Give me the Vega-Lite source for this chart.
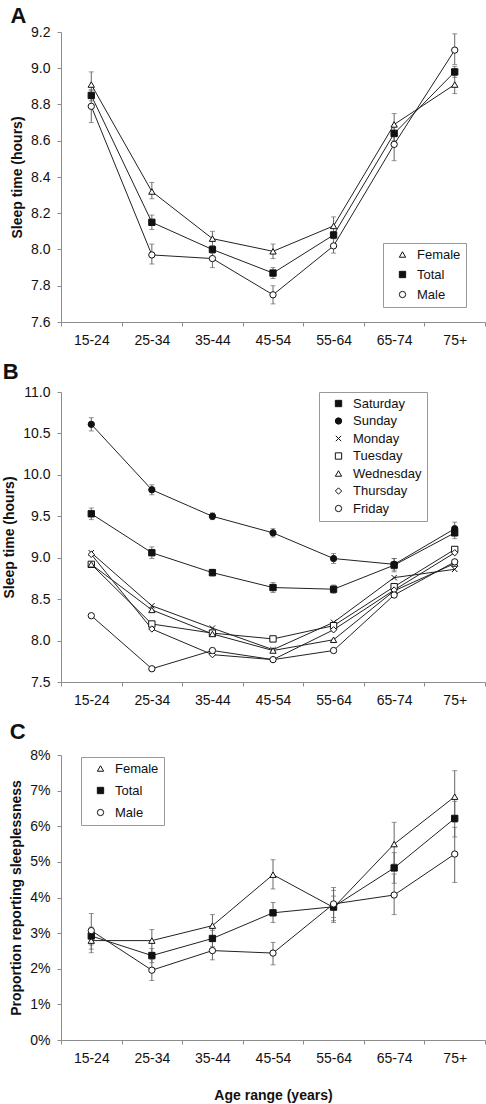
{
  "$schema": "https://vega.github.io/schema/vega-lite/v6.json",
  "padding": {"left": 2, "top": 5, "right": 0, "bottom": 2},
  "background": "white",
  "datasets": {
    "a": [
      {"age": "15-24", "sex": "Female", "v": 8.91, "lo": 8.84, "hi": 8.98},
      {"age": "25-34", "sex": "Female", "v": 8.32, "lo": 8.28, "hi": 8.37},
      {"age": "35-44", "sex": "Female", "v": 8.06, "lo": 8.02, "hi": 8.10},
      {"age": "45-54", "sex": "Female", "v": 7.99, "lo": 7.95, "hi": 8.03},
      {"age": "55-64", "sex": "Female", "v": 8.13, "lo": 8.09, "hi": 8.18},
      {"age": "65-74", "sex": "Female", "v": 8.69, "lo": 8.64, "hi": 8.75},
      {"age": "75+", "sex": "Female", "v": 8.91, "lo": 8.86, "hi": 8.96},
      {"age": "15-24", "sex": "Total", "v": 8.85, "lo": 8.82, "hi": 8.88},
      {"age": "25-34", "sex": "Total", "v": 8.15, "lo": 8.11, "hi": 8.19},
      {"age": "35-44", "sex": "Total", "v": 8.00, "lo": 7.98, "hi": 8.02},
      {"age": "45-54", "sex": "Total", "v": 7.87, "lo": 7.84, "hi": 7.90},
      {"age": "55-64", "sex": "Total", "v": 8.08, "lo": 8.06, "hi": 8.10},
      {"age": "65-74", "sex": "Total", "v": 8.64, "lo": 8.60, "hi": 8.68},
      {"age": "75+", "sex": "Total", "v": 8.98, "lo": 8.95, "hi": 9.01},
      {"age": "15-24", "sex": "Male", "v": 8.79, "lo": 8.70, "hi": 8.88},
      {"age": "25-34", "sex": "Male", "v": 7.97, "lo": 7.92, "hi": 8.03},
      {"age": "35-44", "sex": "Male", "v": 7.95, "lo": 7.90, "hi": 7.99},
      {"age": "45-54", "sex": "Male", "v": 7.75, "lo": 7.70, "hi": 7.80},
      {"age": "55-64", "sex": "Male", "v": 8.02, "lo": 7.98, "hi": 8.06},
      {"age": "65-74", "sex": "Male", "v": 8.58, "lo": 8.49, "hi": 8.66},
      {"age": "75+", "sex": "Male", "v": 9.10, "lo": 9.02, "hi": 9.19}
    ],
    "b": [
      {"age": "15-24", "day": "Saturday", "v": 9.53, "lo": 9.46, "hi": 9.60},
      {"age": "25-34", "day": "Saturday", "v": 9.06, "lo": 8.99, "hi": 9.13},
      {"age": "35-44", "day": "Saturday", "v": 8.82, "lo": 8.78, "hi": 8.86},
      {"age": "45-54", "day": "Saturday", "v": 8.64, "lo": 8.58, "hi": 8.70},
      {"age": "55-64", "day": "Saturday", "v": 8.62, "lo": 8.57, "hi": 8.67},
      {"age": "65-74", "day": "Saturday", "v": 8.91, "lo": 8.83, "hi": 8.99},
      {"age": "75+", "day": "Saturday", "v": 9.30, "lo": 9.23, "hi": 9.37},
      {"age": "15-24", "day": "Sunday", "v": 10.61, "lo": 10.53, "hi": 10.69},
      {"age": "25-34", "day": "Sunday", "v": 9.82, "lo": 9.76, "hi": 9.88},
      {"age": "35-44", "day": "Sunday", "v": 9.50, "lo": 9.46, "hi": 9.54},
      {"age": "45-54", "day": "Sunday", "v": 9.30, "lo": 9.25, "hi": 9.35},
      {"age": "55-64", "day": "Sunday", "v": 8.99, "lo": 8.93, "hi": 9.05},
      {"age": "65-74", "day": "Sunday", "v": 8.92, "lo": 8.85, "hi": 8.99},
      {"age": "75+", "day": "Sunday", "v": 9.35, "lo": 9.27, "hi": 9.43},
      {"age": "15-24", "day": "Monday", "v": 9.06},
      {"age": "25-34", "day": "Monday", "v": 8.42},
      {"age": "35-44", "day": "Monday", "v": 8.15},
      {"age": "45-54", "day": "Monday", "v": 7.89},
      {"age": "55-64", "day": "Monday", "v": 8.22},
      {"age": "65-74", "day": "Monday", "v": 8.76},
      {"age": "75+", "day": "Monday", "v": 8.86},
      {"age": "15-24", "day": "Tuesday", "v": 8.92},
      {"age": "25-34", "day": "Tuesday", "v": 8.20},
      {"age": "35-44", "day": "Tuesday", "v": 8.09},
      {"age": "45-54", "day": "Tuesday", "v": 8.02},
      {"age": "55-64", "day": "Tuesday", "v": 8.18},
      {"age": "65-74", "day": "Tuesday", "v": 8.65},
      {"age": "75+", "day": "Tuesday", "v": 9.10},
      {"age": "15-24", "day": "Wednesday", "v": 8.92},
      {"age": "25-34", "day": "Wednesday", "v": 8.37},
      {"age": "35-44", "day": "Wednesday", "v": 8.08},
      {"age": "45-54", "day": "Wednesday", "v": 7.88},
      {"age": "55-64", "day": "Wednesday", "v": 8.01},
      {"age": "65-74", "day": "Wednesday", "v": 8.60},
      {"age": "75+", "day": "Wednesday", "v": 8.93},
      {"age": "15-24", "day": "Thursday", "v": 9.04},
      {"age": "25-34", "day": "Thursday", "v": 8.14},
      {"age": "35-44", "day": "Thursday", "v": 7.83},
      {"age": "45-54", "day": "Thursday", "v": 7.77},
      {"age": "55-64", "day": "Thursday", "v": 8.13},
      {"age": "65-74", "day": "Thursday", "v": 8.61},
      {"age": "75+", "day": "Thursday", "v": 9.06},
      {"age": "15-24", "day": "Friday", "v": 8.30},
      {"age": "25-34", "day": "Friday", "v": 7.66},
      {"age": "35-44", "day": "Friday", "v": 7.88},
      {"age": "45-54", "day": "Friday", "v": 7.77},
      {"age": "55-64", "day": "Friday", "v": 7.88},
      {"age": "65-74", "day": "Friday", "v": 8.55},
      {"age": "75+", "day": "Friday", "v": 8.95}
    ],
    "c": [
      {"age": "15-24", "sex": "Female", "v": 0.0279, "lo": 0.0245, "hi": 0.0312},
      {"age": "25-34", "sex": "Female", "v": 0.0279, "lo": 0.0246, "hi": 0.0310},
      {"age": "35-44", "sex": "Female", "v": 0.0321, "lo": 0.0288, "hi": 0.0352},
      {"age": "45-54", "sex": "Female", "v": 0.0464, "lo": 0.0424, "hi": 0.0506},
      {"age": "55-64", "sex": "Female", "v": 0.0372, "lo": 0.0330, "hi": 0.0420},
      {"age": "65-74", "sex": "Female", "v": 0.0550, "lo": 0.0494, "hi": 0.0611},
      {"age": "75+", "sex": "Female", "v": 0.0683, "lo": 0.0611, "hi": 0.0756},
      {"age": "15-24", "sex": "Total", "v": 0.0292, "lo": 0.0267, "hi": 0.0317},
      {"age": "25-34", "sex": "Total", "v": 0.0237, "lo": 0.0217, "hi": 0.0257},
      {"age": "35-44", "sex": "Total", "v": 0.0285, "lo": 0.0262, "hi": 0.0308},
      {"age": "45-54", "sex": "Total", "v": 0.0357, "lo": 0.0330, "hi": 0.0386},
      {"age": "55-64", "sex": "Total", "v": 0.0374, "lo": 0.0344, "hi": 0.0404},
      {"age": "65-74", "sex": "Total", "v": 0.0483, "lo": 0.0440, "hi": 0.0526},
      {"age": "75+", "sex": "Total", "v": 0.0622, "lo": 0.0570, "hi": 0.0670},
      {"age": "15-24", "sex": "Male", "v": 0.0307, "lo": 0.0255, "hi": 0.0355},
      {"age": "25-34", "sex": "Male", "v": 0.0196, "lo": 0.0167, "hi": 0.0227},
      {"age": "35-44", "sex": "Male", "v": 0.0251, "lo": 0.0225, "hi": 0.0279},
      {"age": "45-54", "sex": "Male", "v": 0.0244, "lo": 0.0211, "hi": 0.0274},
      {"age": "55-64", "sex": "Male", "v": 0.0382, "lo": 0.0335, "hi": 0.0428},
      {"age": "65-74", "sex": "Male", "v": 0.0407, "lo": 0.0352, "hi": 0.0466},
      {"age": "75+", "sex": "Male", "v": 0.0522, "lo": 0.0442, "hi": 0.0597}
    ]
  },
  "spacing": 14,
  "resolve": {
    "scale": {"shape": "independent", "fill": "independent", "stroke": "independent", "y": "independent", "x": "independent"},
    "legend": {"shape": "independent", "fill": "independent", "stroke": "independent"}
  },
  "vconcat": [
    {
      "title": {"text": "A", "offset": -3},
      "width": 424,
      "height": 290,
      "data": {"name": "a"},
      "encoding": {
        "x": {"field": "age", "type": "nominal", "bandPosition": 0.5,
              "scale": {"type": "band", "paddingInner": 0, "paddingOuter": 0, "domain": ["15-24","25-34","35-44","45-54","55-64","65-74","75+"]},
              "axis": {"title": null, "labelAngle": 0, "tickBand": "extent", "labelPadding": 7}},
        "y": {"field": "v", "type": "quantitative",
              "scale": {"domain": [7.6, 9.2], "zero": false, "nice": false},
              "axis": {"title": "Sleep time (hours)", "values": [7.6,7.8,8.0,8.2,8.4,8.6,8.8,9.0,9.2], "format": ".1f"}}
      },
      "layer": [
        {"mark": {"type": "rule", "color": "#666", "strokeWidth": 1},
         "encoding": {"y": {"field": "lo", "type": "quantitative"}, "y2": {"field": "hi"}}},
        {"mark": {"type": "tick", "color": "#666", "thickness": 1, "size": 5, "orient": "horizontal"},
         "encoding": {"y": {"field": "lo", "type": "quantitative"}}},
        {"mark": {"type": "tick", "color": "#666", "thickness": 1, "size": 5, "orient": "horizontal"},
         "encoding": {"y": {"field": "hi", "type": "quantitative"}}},
        {"mark": {"type": "line", "color": "#222", "strokeWidth": 1},
         "encoding": {"detail": {"field": "sex"}}},
        {"mark": {"type": "point", "filled": false, "strokeWidth": 1, "size": 40, "opacity": 1},
         "encoding": {
           "shape": {"field": "sex", "type": "nominal", "scale": {"domain": ["Female","Total","Male"], "range": ["triangle-up","square","circle"]},
                     "legend": {"title": null, "orient": "none", "legendX": 322, "legendY": 211, "rowPadding": 6}},
           "fill": {"field": "sex", "type": "nominal", "scale": {"domain": ["Female","Total","Male"], "range": ["white","#111","white"]},
                    "legend": {"title": null, "orient": "none", "legendX": 322, "legendY": 211, "rowPadding": 6}},
           "stroke": {"field": "sex", "type": "nominal", "scale": {"domain": ["Female","Total","Male"], "range": ["#111","#111","#111"]},
                    "legend": {"title": null, "orient": "none", "legendX": 322, "legendY": 211, "rowPadding": 6}}
         }}
      ]
    },
    {
      "title": {"text": "B", "offset": 1},
      "width": 424,
      "height": 290,
      "data": {"name": "b"},
      "encoding": {
        "x": {"field": "age", "type": "nominal", "bandPosition": 0.5,
              "scale": {"type": "band", "paddingInner": 0, "paddingOuter": 0, "domain": ["15-24","25-34","35-44","45-54","55-64","65-74","75+"]},
              "axis": {"title": null, "labelAngle": 0, "tickBand": "extent", "labelPadding": 7}},
        "y": {"field": "v", "type": "quantitative",
              "scale": {"domain": [7.5, 11.0], "zero": false, "nice": false},
              "axis": {"title": "Sleep time (hours)", "values": [7.5,8.0,8.5,9.0,9.5,10.0,10.5,11.0], "format": ".1f"}}
      },
      "layer": [
        {"transform": [{"filter": "datum.lo != null"}],
         "mark": {"type": "rule", "color": "#666", "strokeWidth": 1},
         "encoding": {"y": {"field": "lo", "type": "quantitative"}, "y2": {"field": "hi"}}},
        {"transform": [{"filter": "datum.lo != null"}],
         "mark": {"type": "tick", "color": "#666", "thickness": 1, "size": 5, "orient": "horizontal"},
         "encoding": {"y": {"field": "lo", "type": "quantitative"}}},
        {"transform": [{"filter": "datum.lo != null"}],
         "mark": {"type": "tick", "color": "#666", "thickness": 1, "size": 5, "orient": "horizontal"},
         "encoding": {"y": {"field": "hi", "type": "quantitative"}}},
        {"mark": {"type": "line", "color": "#222", "strokeWidth": 1},
         "encoding": {"detail": {"field": "day"}}},
        {"mark": {"type": "point", "filled": false, "strokeWidth": 1, "size": 40, "opacity": 1},
         "encoding": {
           "shape": {"field": "day", "type": "nominal",
                     "scale": {"domain": ["Saturday","Sunday","Monday","Tuesday","Wednesday","Thursday","Friday"],
                               "range": ["square","circle","M-0.85,-0.85L0.85,0.85M-0.85,0.85L0.85,-0.85","square","triangle-up","diamond","circle"]},
                     "legend": {"title": null, "orient": "none", "legendX": 258, "legendY": 0, "rowPadding": 3.5}},
           "fill": {"field": "day", "type": "nominal",
                    "scale": {"domain": ["Saturday","Sunday","Monday","Tuesday","Wednesday","Thursday","Friday"],
                              "range": ["#111","#111","white","white","white","white","white"]},
                    "legend": {"title": null, "orient": "none", "legendX": 258, "legendY": 0, "rowPadding": 3.5}},
           "stroke": {"field": "day", "type": "nominal",
                    "scale": {"domain": ["Saturday","Sunday","Monday","Tuesday","Wednesday","Thursday","Friday"],
                              "range": ["#111","#111","#111","#111","#111","#111","#111"]},
                    "legend": {"title": null, "orient": "none", "legendX": 258, "legendY": 0, "rowPadding": 3.5}}
         }}
      ]
    },
    {
      "title": {"text": "C", "offset": 4},
      "width": 424,
      "height": 285,
      "data": {"name": "c"},
      "encoding": {
        "x": {"field": "age", "type": "nominal", "bandPosition": 0.5,
              "scale": {"type": "band", "paddingInner": 0, "paddingOuter": 0, "domain": ["15-24","25-34","35-44","45-54","55-64","65-74","75+"]},
              "axis": {"title": "Age range (years)", "labelAngle": 0, "tickBand": "extent", "labelPadding": 7, "titlePadding": 23}},
        "y": {"field": "v", "type": "quantitative",
              "scale": {"domain": [0, 0.08], "nice": false},
              "axis": {"title": "Proportion reporting sleeplessness", "values": [0,0.01,0.02,0.03,0.04,0.05,0.06,0.07,0.08], "format": ".0%"}}
      },
      "layer": [
        {"mark": {"type": "rule", "color": "#666", "strokeWidth": 1},
         "encoding": {"y": {"field": "lo", "type": "quantitative"}, "y2": {"field": "hi"}}},
        {"mark": {"type": "tick", "color": "#666", "thickness": 1, "size": 5, "orient": "horizontal"},
         "encoding": {"y": {"field": "lo", "type": "quantitative"}}},
        {"mark": {"type": "tick", "color": "#666", "thickness": 1, "size": 5, "orient": "horizontal"},
         "encoding": {"y": {"field": "hi", "type": "quantitative"}}},
        {"mark": {"type": "line", "color": "#222", "strokeWidth": 1},
         "encoding": {"detail": {"field": "sex"}}},
        {"mark": {"type": "point", "filled": false, "strokeWidth": 1, "size": 40, "opacity": 1},
         "encoding": {
           "shape": {"field": "sex", "type": "nominal", "scale": {"domain": ["Female","Total","Male"], "range": ["triangle-up","square","circle"]},
                     "legend": {"title": null, "orient": "none", "legendX": 20, "legendY": 2, "rowPadding": 8}},
           "fill": {"field": "sex", "type": "nominal", "scale": {"domain": ["Female","Total","Male"], "range": ["white","#111","white"]},
                    "legend": {"title": null, "orient": "none", "legendX": 20, "legendY": 2, "rowPadding": 8}},
           "stroke": {"field": "sex", "type": "nominal", "scale": {"domain": ["Female","Total","Male"], "range": ["#111","#111","#111"]},
                    "legend": {"title": null, "orient": "none", "legendX": 20, "legendY": 2, "rowPadding": 8}}
         }}
      ]
    }
  ],
  "config": {
    "font": "Liberation Sans",
    "view": {"stroke": null},
    "axis": {
      "grid": false,
      "domainColor": "#8c8c8c",
      "tickColor": "#8c8c8c",
      "tickSize": 4,
      "labelFont": "Liberation Sans",
      "labelFontSize": 14,
      "labelColor": "#111",
      "labelPadding": 7,
      "titleFont": "Liberation Sans",
      "titleFontSize": 14,
      "titleFontWeight": "bold",
      "titleColor": "#111",
      "titlePadding": 6
    },
    "legend": {
      "labelFont": "Liberation Sans",
      "labelFontSize": 13,
      "labelColor": "#111",
      "strokeColor": "#999",
      "fillColor": "white",
      "padding": 5,
      "symbolOffset": 8,
      "labelOffset": 8,
      "symbolSize": 40,
      "symbolStrokeWidth": 1
    },
    "title": {
      "font": "Liberation Sans",
      "fontSize": 22,
      "fontWeight": "bold",
      "color": "#111",
      "anchor": "start",
      "frame": "bounds"
    }
  }
}
